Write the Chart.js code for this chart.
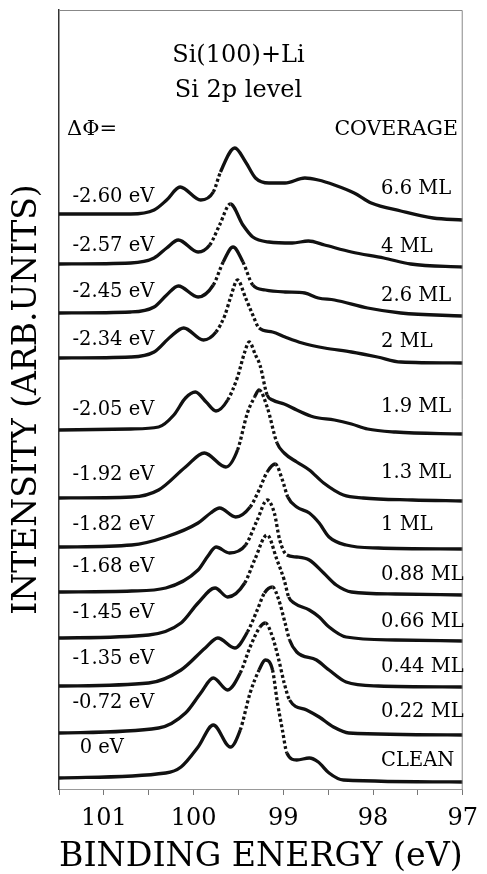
<!DOCTYPE html>
<html>
<head>
<meta charset="utf-8">
<script src="https://cdn.jsdelivr.net/npm/chart.js@4.4.1/dist/chart.umd.min.js"></script>
<style>
  html, body { margin: 0; padding: 0; background: #fff; }
  canvas { display: block; }
</style>
</head>
<body>
<canvas id="chart" width="487" height="874"></canvas>
<script>
// Si 2p core level of Si(100)+Li, spectra stacked with an offset (arb. units)
var coverage = ['6.6 ML', '4 ML', '2.6 ML', '2 ML', '1.9 ML', '1.3 ML', '1 ML', '0.88 ML', '0.66 ML', '0.44 ML', '0.22 ML', 'CLEAN'];
var deltaPhi = ['-2.60 eV', '-2.57 eV', '-2.45 eV', '-2.34 eV', '-2.05 eV', '-1.92 eV', '-1.82 eV', '-1.68 eV', '-1.45 eV', '-1.35 eV', '-0.72 eV', '0 eV'];
var xTicks = [101, 100, 99, 98, 97];

// binding energy (eV) / intensity, one pair per coverage
var be_66 = [101.5, 100.70, 100.44, 100.30, 100.15, 99.92, 99.78, 99.70, 99.54, 99.42, 99.31, 99.16, 98.98, 98.76, 98.61, 98.43, 98.21, 98.02, 97.69, 97.33, 97.00];
var int_66 = [575, 575, 579, 589, 602, 589, 597, 617, 641, 627, 611, 606, 606, 611, 609, 604, 596, 586, 578, 571, 569];

var be_4 = [101.5, 100.70, 100.44, 100.30, 100.17, 99.95, 99.82, 99.71, 99.59, 99.45, 99.34, 99.16, 98.90, 98.72, 98.54, 98.24, 97.88, 97.58, 97.00];
var int_4 = [525, 526, 531, 541, 549, 537, 544, 564, 585, 564, 552, 547, 546, 548, 544, 537, 531, 525, 522];

var be_26 = [101.5, 100.70, 100.44, 100.30, 100.17, 99.95, 99.78, 99.67, 99.56, 99.45, 99.34, 99.20, 98.98, 98.76, 98.61, 98.43, 98.06, 97.69, 97.00];
var int_26 = [476, 477, 482, 494, 503, 492, 504, 527, 542, 527, 504, 499, 497, 496, 491, 489, 481, 476, 473];

var be_2 = [101.5, 100.70, 100.44, 100.26, 100.11, 99.89, 99.75, 99.65, 99.59, 99.51, 99.42, 99.34, 99.27, 99.12, 98.98, 98.79, 98.54, 98.24, 97.95, 97.69, 97.00];
var int_2 = [431, 432, 437, 452, 461, 449, 457, 474, 491, 509, 491, 474, 461, 457, 452, 446, 441, 437, 432, 427, 426];

var be_19 = [101.5, 100.70, 100.39, 100.22, 100.09, 99.98, 99.86, 99.75, 99.62, 99.51, 99.43, 99.38, 99.31, 99.26, 99.18, 99.12, 98.99, 98.85, 98.66, 98.43, 98.24, 98.06, 97.75, 97.00];
var int_19 = [359, 360, 362, 374, 391, 397, 387, 378, 389, 412, 437, 447, 434, 424, 394, 389, 385, 379, 372, 369, 365, 360, 357, 355];

var be_13 = [101.5, 100.69, 100.39, 100.09, 99.88, 99.64, 99.51, 99.40, 99.32, 99.27, 99.18, 99.07, 98.99, 98.85, 98.71, 98.55, 98.33, 98.11, 97.56, 97.00];
var int_13 = [291, 292, 299, 322, 336, 322, 339, 376, 392, 399, 382, 346, 336, 327, 319, 306, 294, 291, 289, 288];

var be_1 = [101.5, 100.69, 100.31, 99.95, 99.81, 99.71, 99.53, 99.37, 99.27, 99.18, 99.09, 99.01, 98.95, 98.85, 98.71, 98.60, 98.49, 98.30, 97.94, 97.00];
var int_1 = [242, 244, 252, 266, 276, 281, 272, 282, 299, 317, 325, 309, 292, 282, 276, 266, 252, 244, 241, 240];

var be_088 = [101.5, 100.69, 100.31, 99.95, 99.84, 99.75, 99.60, 99.42, 99.29, 99.18, 99.10, 99.04, 98.96, 98.85, 98.71, 98.55, 98.41, 98.24, 97.75, 97.00];
var int_088 = [197, 198, 201, 219, 233, 242, 236, 244, 269, 289, 276, 249, 234, 232, 229, 216, 204, 197, 195, 194];

var be_066 = [101.5, 100.50, 100.14, 99.95, 99.76, 99.62, 99.43, 99.32, 99.18, 99.07, 98.99, 98.94, 98.88, 98.71, 98.60, 98.49, 98.30, 97.75, 97.00];
var int_066 = [151, 154, 166, 186, 201, 192, 206, 229, 254, 229, 209, 192, 186, 179, 172, 162, 152, 149, 148];

var be_044 = [101.5, 100.50, 100.14, 99.87, 99.73, 99.54, 99.40, 99.29, 99.21, 99.12, 99.05, 98.98, 98.93, 98.85, 98.63, 98.49, 98.30, 97.94, 97.00];
var int_044 = [103, 106, 119, 141, 151, 141, 157, 179, 196, 202, 189, 166, 149, 137, 129, 119, 107, 103, 102];

var be_022 = [101.5, 100.39, 100.09, 99.92, 99.78, 99.62, 99.48, 99.37, 99.26, 99.20, 99.12, 99.05, 98.99, 98.93, 98.74, 98.60, 98.44, 98.27, 97.00];
var int_022 = [56, 61, 76, 96, 111, 99, 116, 142, 162, 166, 152, 129, 106, 89, 79, 72, 62, 56, 54];

var be_clean = [101.5, 100.31, 100.14, 99.95, 99.78, 99.59, 99.48, 99.37, 99.27, 99.20, 99.12, 99.07, 99.01, 98.96, 98.85, 98.71, 98.61, 98.49, 98.33, 97.00];
var int_clean = [11, 16, 22, 42, 64, 42, 59, 96, 119, 129, 119, 89, 59, 36, 29, 31, 27, 16, 9, 7];

var energies = [be_66, be_4, be_26, be_2, be_19, be_13, be_1, be_088, be_066, be_044, be_022, be_clean];
var intensities = [int_66, int_4, int_26, int_2, int_19, int_13, int_1, int_088, int_066, int_044, int_022, int_clean];

// where the labels sit (in y-axis units)
var leftLabelY = [592, 543, 497, 449, 379, 314, 264, 222, 176, 130, 86, 41];
var rightLabelY = [600, 542, 493, 447, 382, 316, 264, 214, 167, 122, 77, 28];

var SERIF = '"DejaVu Serif", "Liberation Serif", serif';

var datasets = intensities.map(function (vals, k) {
	return {
		label: coverage[k],
		data: vals.map(function (v, i) { return { x: energies[k][i], y: v }; }),
		borderColor: '#111',
		borderWidth: 3.3,
		pointRadius: 0,
		fill: false,
		cubicInterpolationMode: 'monotone',
		borderCapStyle: 'butt',
		borderJoinStyle: 'round',
		segment: {
			// steep flanks come out dotted like in the scan
			borderDash: function (ctx) {
				var dx = Math.abs(ctx.p1.x - ctx.p0.x);
				var dy = Math.abs(ctx.p1.y - ctx.p0.y);
				return dy > 1.8 * dx ? [3, 2.5] : undefined;
			}
		}
	};
});

var textPlugin = {
	id: 'texts',
	afterDatasetsDraw: function (chart) {
		var ctx = chart.ctx;
		var sx = chart.scales.x, sy = chart.scales.y;
		var a = chart.chartArea;
		ctx.save();
		// top and right frame
		ctx.strokeStyle = '#888';
		ctx.lineWidth = 1;
		ctx.beginPath();
		ctx.moveTo(a.left, a.top + 0.5);
		ctx.lineTo(a.right - 0.5, a.top + 0.5);
		ctx.lineTo(a.right - 0.5, a.bottom);
		ctx.stroke();

		ctx.fillStyle = '#000';
		ctx.textBaseline = 'middle';
		ctx.textAlign = 'center';
		ctx.font = '24px ' + SERIF;
		ctx.fillText('Si(100)+Li', sx.getPixelForValue(99.5), sy.getPixelForValue(733));
		ctx.fillText('Si 2p level', sx.getPixelForValue(99.5), sy.getPixelForValue(698));

		ctx.textAlign = 'left';
		ctx.font = '21px ' + SERIF;
		ctx.fillText('\u0394\u03A6=', sx.getPixelForValue(101.41), sy.getPixelForValue(659));
		ctx.font = '20.5px ' + SERIF;
		ctx.fillText('COVERAGE', sx.getPixelForValue(98.43), sy.getPixelForValue(659));

		ctx.font = '19.5px ' + SERIF;
		for (var i = 0; i < coverage.length; i++) {
			var lx = deltaPhi[i] === '0 eV' ? 101.27 : 101.35;
			ctx.fillText(deltaPhi[i], sx.getPixelForValue(lx), sy.getPixelForValue(leftLabelY[i]));
			ctx.fillText(coverage[i], sx.getPixelForValue(97.91), sy.getPixelForValue(rightLabelY[i]));
		}
		ctx.restore();
	}
};

new Chart(document.getElementById('chart'), {
	type: 'line',
	data: { datasets: datasets },
	options: {
		responsive: false,
		animation: false,
		devicePixelRatio: 1,
		layout: { padding: { top: 10, right: 19, left: 0, bottom: 0 } },
		plugins: { legend: { display: false }, tooltip: { enabled: false } },
		scales: {
			x: {
				type: 'linear',
				reverse: true,
				min: 97,
				max: 101.5,
				ticks: {
					stepSize: 0.5,
					autoSkip: false,
					maxRotation: 0,
					padding: 9,
					color: '#000',
					font: { family: SERIF, size: 24 },
					callback: function (v) { return xTicks.indexOf(v) >= 0 ? String(v) : ''; }
				},
				grid: { drawOnChartArea: false, tickLength: 6, tickColor: '#777' },
				border: { color: '#999', width: 1 },
				title: {
					display: true,
					text: 'BINDING ENERGY (eV)',
					color: '#000',
					font: { family: SERIF, size: 34, lineHeight: 1 },
					padding: { top: 0, bottom: 0 }
				},
				afterFit: function (s) { s.height = 85; }
			},
			y: {
				min: 0,
				max: 779,
				ticks: { display: false },
				grid: { display: false, drawTicks: false },
				border: { display: true, color: '#333', width: 1.5 },
				title: {
					display: true,
					text: 'INTENSITY (ARB.UNITS)',
					color: '#000',
					font: { family: SERIF, size: 33, lineHeight: 1 },
					padding: { top: 11, bottom: 0 }
				},
				afterFit: function (s) { s.width = 59; }
			}
		}
	},
	plugins: [textPlugin]
});
</script>
</body>
</html>
